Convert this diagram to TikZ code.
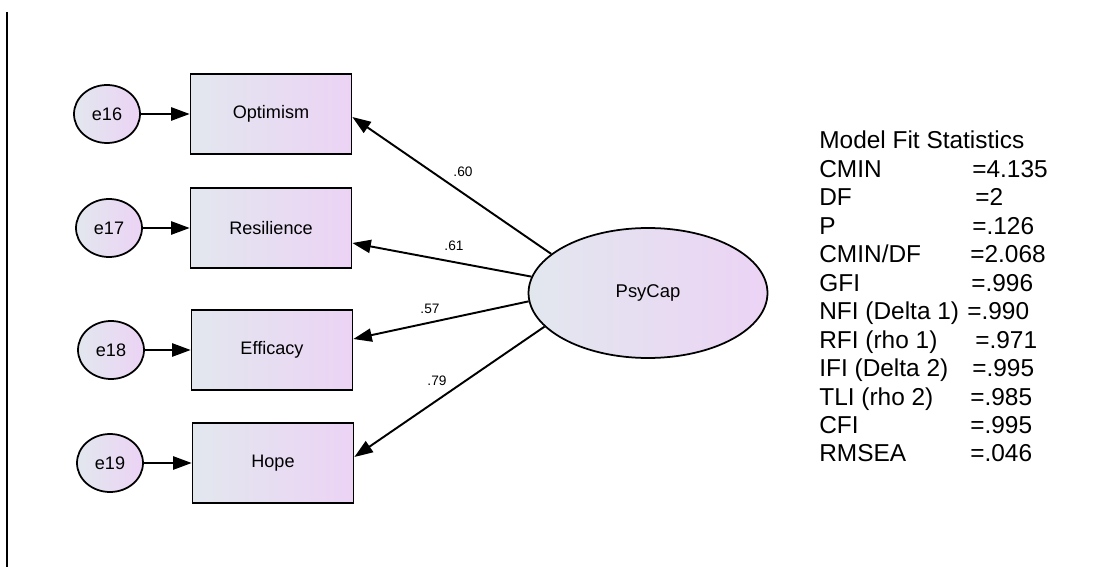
\documentclass[tikz,border=0pt]{standalone}
\usepackage{fontspec}
\setmainfont{Liberation Sans}
\usetikzlibrary{arrows.meta, calc, shapes.geometric}
\definecolor{fillL}{HTML}{E2E7EE}
\definecolor{fillR}{HTML}{ECD3F5}

\begin{document}
\begin{tikzpicture}[x=0.02cm, y=-0.02cm,
  ErrStyle/.style={shape=ellipse,draw=black,line width=1pt,inner sep=0pt,
    minimum width=1.32cm,minimum height=1.16cm,left color=fillL,right color=fillR,
    font=\fontsize{10.3}{12}\selectfont},
  ObsStyle/.style={shape=rectangle,draw=black,line width=1pt,inner sep=0pt,
    minimum width=3.22cm,minimum height=1.6cm,left color=fillL,right color=fillR,
    font=\fontsize{10.3}{12}\selectfont},
  LatStyle/.style={shape=ellipse,draw=black,line width=1pt,inner sep=0pt,
    minimum width=4.78cm,minimum height=2.6cm,left color=fillL,right color=fillR,
    font=\fontsize{10.5}{12}\selectfont},
  PathStyle/.style={line width=1.1pt,-{Triangle[length=10.5pt,width=7.5pt]}},
  CoefStyle/.style={inner sep=0pt,font=\fontsize{7.8}{9}\selectfont},
  StatStyle/.style={inner sep=0pt,anchor=base west,font=\fontsize{13.9}{16}\selectfont}]
  \useasboundingbox (0,0) rectangle (1108,567);
  \draw[line width=0.8pt] (7,12) -- (7,567);   % left rule
  % observed indicators and their errors
  \node[ObsStyle] (opt) at (271,114) {Optimism};
  \node[ObsStyle] (res) at (271,228) {Resilience};
  \node[ObsStyle] (eff) at (272,350) {Efficacy};
  \node[ObsStyle] (hop) at (273,463) {Hope};
  \node[ErrStyle] (e16) at (107,114) {e16};
  \node[ErrStyle] (e17) at (109,228) {e17};
  \node[ErrStyle] (e18) at (111,350) {e18};
  \node[ErrStyle] (e19) at (110,463) {e19};
  \draw[PathStyle] (e16) -- (opt);
  \draw[PathStyle] (e17) -- (res);
  \draw[PathStyle] (e18) -- (eff);
  \draw[PathStyle] (e19) -- (hop);
  % latent factor
  \node[LatStyle] (psy) at (648,293) {PsyCap};
  \draw[PathStyle] (psy.158) -- ($(opt.east)+(0,3)$);
  \draw[PathStyle] (psy.172) -- ($(res.east)+(0,15)$);
  \draw[PathStyle] (psy.184) -- ($(eff.east)+(0,-11)$);
  \draw[PathStyle] (psy.198) -- ($(hop.east)+(0,-6)$);
  \node[CoefStyle] (c60) at (463,172) {.60};
  \node[CoefStyle] (c61) at (454,246) {.61};
  \node[CoefStyle] (c57) at (430,309) {.57};
  \node[CoefStyle] (c79) at (437,381) {.79};
  % fit statistics
  \node[StatStyle] (stat0) at (819,149) {Model Fit Statistics};
  \foreach \lbl/\val/\vx [count=\i] in {CMIN/{=4.135}/972, DF/{=2}/975, P/{=.126}/972,
      {CMIN/DF}/{=2.068}/970, GFI/{=.996}/971, {NFI (Delta 1)}/{=.990}/967,
      {RFI (rho 1)}/{=.971}/975, {IFI (Delta 2)}/{=.995}/972, {TLI (rho 2)}/{=.985}/970,
      CFI/{=.995}/970, RMSEA/{=.046}/970} {
    \node[StatStyle] (stat\i) at (819,149+28.45*\i) {\lbl};
    \node[StatStyle] (val\i) at (\vx,149+28.45*\i) {\val};
  }
\end{tikzpicture}
\end{document}
